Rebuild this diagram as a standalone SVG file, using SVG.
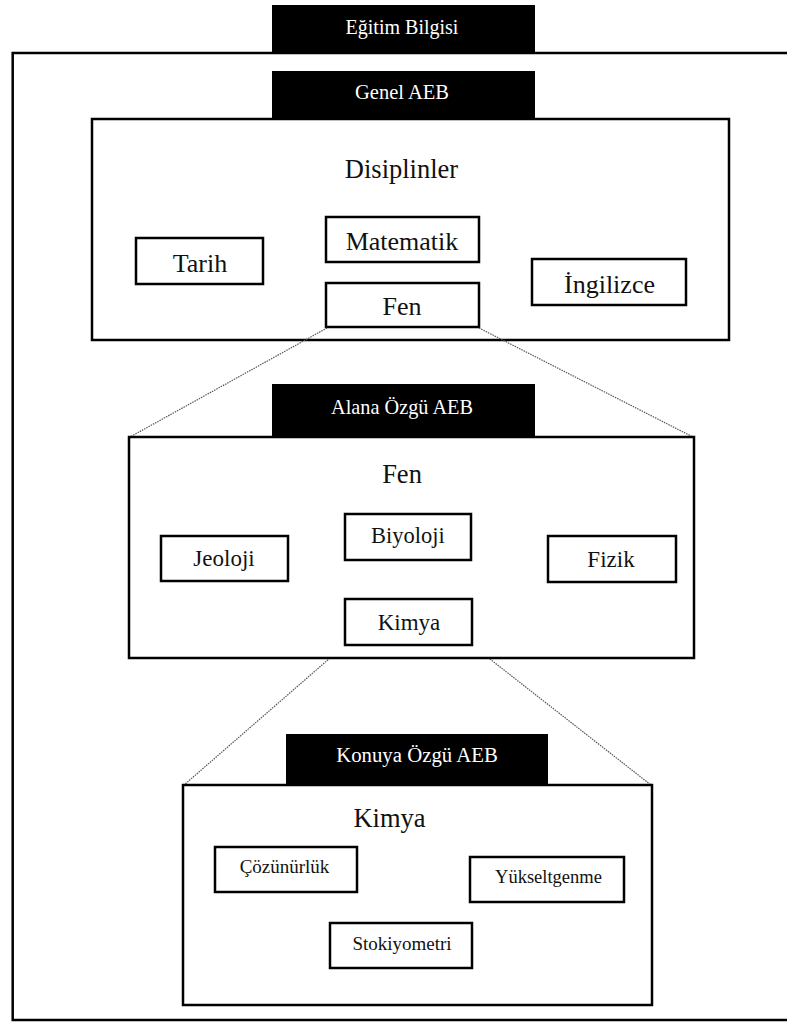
<svg xmlns="http://www.w3.org/2000/svg" width="787" height="1023" viewBox="0 0 787 1023">
  <style>
    .frame { fill: #fff; stroke: #000; stroke-width: 2.5; }
    .box { fill: #fff; stroke: #000; stroke-width: 2.5; }
    .tab { fill: #000; }
    text { font-family: 'Liberation Serif', 'Times New Roman', serif; text-anchor: middle; }
    .tab-label { fill: #fff; }
    .title { fill: #111; font-size: 26.5px; }
    .label { fill: #111; }
    .zoom { fill: none; stroke: #555; stroke-width: 1.2; stroke-dasharray: 1.5 1; }
  </style>

  <!-- outermost frame: Eğitim Bilgisi -->
  <g id="egitim-bilgisi">
    <rect class="frame" x="12.7" y="53" width="800" height="967"/>
    <rect class="tab" x="272" y="5" width="263" height="48"/>
    <text class="tab-label" x="402" y="34" font-size="20">Eğitim Bilgisi</text>
  </g>

  <!-- level 1: Genel AEB -->
  <g id="genel-aeb">
    <rect class="tab" x="272" y="71" width="263" height="48"/>
    <text class="tab-label" x="402" y="99" font-size="20.5">Genel AEB</text>
    <rect class="frame" x="92" y="119" width="637" height="221"/>
    <text class="title" x="401.5" y="178">Disiplinler</text>
  </g>
  <g id="tarih">
    <rect class="box" x="136" y="238" width="127" height="46"/>
    <text class="label" x="200" y="272" font-size="26">Tarih</text>
  </g>
  <g id="matematik">
    <rect class="box" x="326" y="217" width="153" height="45"/>
    <text class="label" x="402" y="250" font-size="26">Matematik</text>
  </g>
  <g id="fen-1">
    <rect class="box" x="326" y="283" width="153" height="44"/>
    <text class="label" x="402" y="315" font-size="26">Fen</text>
  </g>
  <g id="ingilizce">
    <rect class="box" x="532" y="259" width="154" height="46"/>
    <text class="label" x="609.5" y="293" font-size="26">İngilizce</text>
  </g>

  <!-- zoom-out lines between levels -->
  <g id="connectors">
    <line class="zoom" x1="327" y1="328" x2="130" y2="437"/>
    <line class="zoom" x1="479" y1="328" x2="693" y2="437"/>
    <line class="zoom" x1="345" y1="645" x2="184" y2="785"/>
    <line class="zoom" x1="472" y1="645" x2="651" y2="785"/>
  </g>

  <!-- level 2: Alana Özgü AEB -->
  <g id="alana-ozgu-aeb">
    <rect class="tab" x="272" y="384" width="263" height="53"/>
    <text class="tab-label" x="402" y="414" font-size="20.3">Alana Özgü AEB</text>
    <rect class="frame" x="129" y="437" width="565" height="221"/>
    <text class="title" x="402" y="483">Fen</text>
  </g>
  <g id="jeoloji">
    <rect class="box" x="161" y="536" width="127" height="45"/>
    <text class="label" x="224" y="566" font-size="23">Jeoloji</text>
  </g>
  <g id="biyoloji">
    <rect class="box" x="345" y="514" width="126" height="46"/>
    <text class="label" x="408" y="543" font-size="22.5">Biyoloji</text>
  </g>
  <g id="fizik">
    <rect class="box" x="548" y="536" width="128" height="46"/>
    <text class="label" x="611" y="567" font-size="23">Fizik</text>
  </g>
  <g id="kimya-2">
    <rect class="box" x="345" y="599" width="127" height="46"/>
    <text class="label" x="409" y="630" font-size="23">Kimya</text>
  </g>

  <!-- level 3: Konuya Özgü AEB -->
  <g id="konuya-ozgu-aeb">
    <rect class="tab" x="286" y="734" width="262" height="51"/>
    <text class="tab-label" x="417" y="762" font-size="20.8">Konuya Özgü AEB</text>
    <rect class="frame" x="183" y="785" width="469" height="220"/>
    <text class="title" x="389.5" y="827" font-size="27">Kimya</text>
  </g>
  <g id="cozunurluk">
    <rect class="box" x="215" y="847" width="142" height="45"/>
    <text class="label" x="284.5" y="873" font-size="19">Çözünürlük</text>
  </g>
  <g id="yukseltgenme">
    <rect class="box" x="470" y="857" width="154" height="45"/>
    <text class="label" x="548.5" y="883" font-size="18.5">Yükseltgenme</text>
  </g>
  <g id="stokiyometri">
    <rect class="box" x="330" y="923" width="142" height="45"/>
    <text class="label" x="402" y="950" font-size="19">Stokiyometri</text>
  </g>
</svg>
